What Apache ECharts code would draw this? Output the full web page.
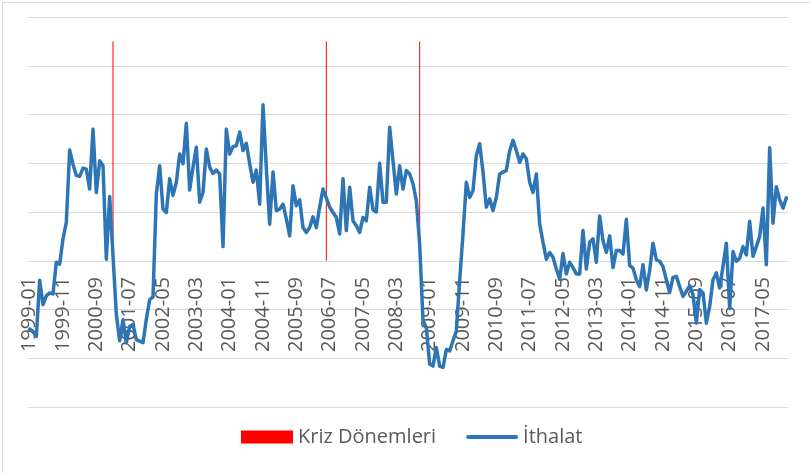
<!DOCTYPE html>
<html>
<head>
<meta charset="utf-8">
<title>İthalat</title>
<script src="https://cdn.jsdelivr.net/npm/echarts@6/dist/echarts.min.js"></script>
<style>
    html, body { margin: 0; padding: 0; background: #fff; }
    #chart { width: 810px; height: 473px; }
</style>
</head>
<body>
<div id="chart"></div>
<script>
    // 月份 1999-01 ... 2017-12
    var firstYear = 1999,
        lastYear = 2017;

    // 危机月份
    var crisisMonths = ['2001-02', '2006-06', '2008-10'];
    var crisisHeight = 45;

    // İthalat (aylık)
    var ithalat = [
        -14, -14.5, -15.5, -4, -9, -7.2, -6.6, -6.8, -0.3, -0.7, 4.5, 7.9,
        22.7, 19.8, 17.5, 17.3, 19, 18.8, 14.7, 27, 14, 20.5, 19.5, 0.3,
        13.2, 1, -11, -16.4, -12.1, -16.8, -13.5, -13.1, -16.2, -16.5, -16.8, -12,
        -8, -7.4, 13.7, 19.5, 10.6, 9.9, 16.8, 13.4, 16.1, 21.9, 19.9, 28.2,
        14.5, 19.2, 23.3, 12, 14, 22.9, 19.2, 17.9, 18.6, 17.8, 2.9, 27,
        21.9, 23.4, 23.6, 26.4, 22.6, 24.1, 19.9, 16.1, 18.6, 11.6, 32, 19,
        7.5, 18.2, 10.3, 10.6, 11.6, 8.6, 5.1, 15.4, 11.3, 12.5, 6.8, 5.8,
        6.8, 9, 6.8, 11, 14.7, 12.9, 11, 9.9, 8.9, 5.5, 16.8, 6.2,
        15.1, 8.2, 7.2, 5.8, 8.9, 8.2, 15.1, 10.5, 10, 20, 12, 12,
        27.4, 20.5, 13.7, 19.5, 14.7, 18.5, 17.8, 15.8, 12.3, 3.4, -12.3, -13.7,
        -21.2, -21.6, -17.8, -21.6, -21.9, -18.2, -18.5, -16.4, -14.4, -4.1, 5.5, 16.1,
        13, 14.4, 21.6, 24, 18.2, 11, 12.7, 10.3, 13, 17.8, 18.2, 18.5,
        22.5, 24.7, 22.6, 20.2, 21.9, 20.9, 16.1, 14, 17.8, 7.5, 3.8, 0.3,
        1.7, 0.7, -1.7, -3.8, 1.5, -2.7, -0.3, -1.4, -2.7, -2.7, 6.2, -1.7,
        3.8, 4.5, -0.3, 9.2, 4.1, 1.7, 5.1, -1.4, 2.1, 2.1, 1.4, 8.5,
        -1, -1.5, -3.9, -5.3, -0.8, -6, -2, 3.6, 0.2, -0.1, -1.2, -3.9,
        -6.5, -3.4, -3.2, -5.3, -7.3, -6.3, -5.1, -7, -12.8, -5.9, -6.6, -12.8,
        -9.4, -3.9, -2.5, -5.6, -1.2, 3.6, -9.8, 1.9, -0.1, 0.5, 2.9, 1.2,
        8.1, 0.9, 2.9, 5, 10.8, -0.8, 23.2, 7.7, 15.2, 12.5, 10.8, 12.9
    ];

    var fontName = '"Open Sans", "Liberation Sans", sans-serif',
        textColor = '#595959',
        gridColor = '#d9d9d9',
        lineColor = '#2e75b6';

    // 生成月份类目
    var months = [];
    for (var y = firstYear; y <= lastYear; y++) {
        for (var m = 1; m <= 12; m++) {
            months.push(y + '-' + (m < 10 ? '0' + m : m));
        }
    }

    // 危机竖线数据
    var crisisData = months.map(function(d){
        return crisisMonths.indexOf(d) >= 0 ? crisisHeight : null;
    });

    var chart = echarts.init(document.getElementById('chart'));

    var option = {
        animation: false,
        backgroundColor: '#fff',
        graphic: [
            {
                type: 'rect',
                shape: {x: 2.5, y: 2.5, width: 830, height: 500},
                style: {fill: 'none', stroke: gridColor, lineWidth: 1},
                silent: true
            }
        ],
        grid: {
            left: 28,
            right: 22,
            top: 17,
            bottom: 66,
            containLabel: false,
            outerBoundsMode: 'none'
        },
        legend: {
            left: 236,
            top: 422,
            itemWidth: 52,
            itemHeight: 13,
            itemGap: 30,
            textStyle: {
                fontFamily: fontName,
                fontSize: 20,
                color: textColor
            },
            data: [
                {name: 'Kriz Dönemleri', icon: 'rect'},
                {name: 'İthalat', icon: 'path://M2,0 L50,0 A2,2 0 0 1 50,4 L2,4 A2,2 0 0 1 2,0 Z'}
            ]
        },
        xAxis: [
            {
                type: 'category',
                data: months,
                boundaryGap: true,
                offset: -146,
                axisLine: {
                    show: true,
                    onZero: false,
                    lineStyle: {color: gridColor, width: 1}
                },
                axisTick: {show: false},
                axisLabel: {
                    interval: 9,
                    rotate: 90,
                    margin: 16,
                    fontFamily: fontName,
                    fontSize: 20,
                    color: textColor
                }
            }
        ],
        yAxis: [
            {
                type: 'value',
                min: -30,
                max: 50,
                interval: 10,
                axisLine: {show: false},
                axisTick: {show: false},
                axisLabel: {show: false},
                splitLine: {lineStyle: {color: gridColor, width: 1}}
            }
        ],
        series: [
            {
                name: 'Kriz Dönemleri',
                type: 'bar',
                barWidth: 1,
                itemStyle: {color: '#ff0000'},
                data: crisisData
            },
            {
                name: 'İthalat',
                type: 'line',
                symbol: 'none',
                lineStyle: {
                    color: lineColor,
                    width: 3.5,
                    cap: 'round',
                    join: 'round'
                },
                itemStyle: {color: lineColor},
                data: ithalat
            }
        ]
    };

    chart.setOption(option);
</script>
</body>
</html>
